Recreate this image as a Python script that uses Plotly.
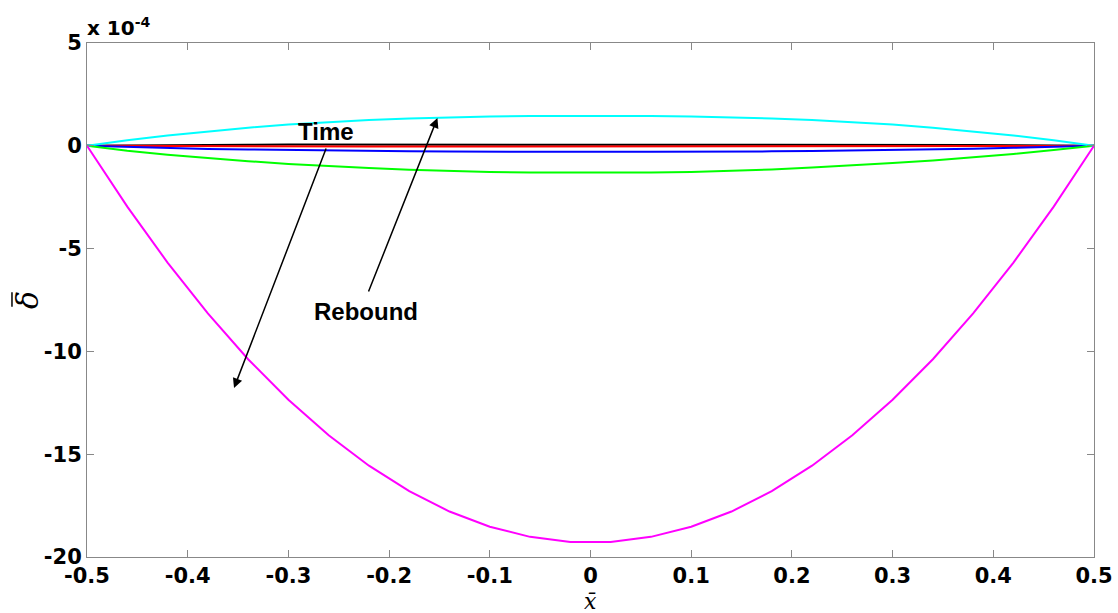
import plotly.graph_objects as go

# x positions (normalised beam coordinate)
x_vals = [-0.5, -0.46, -0.42, -0.38, -0.34, -0.30, -0.26, -0.22, -0.18, -0.14, -0.10, -0.06, -0.02,
          0.02, 0.06, 0.10, 0.14, 0.18, 0.22, 0.26, 0.30, 0.34, 0.38, 0.42, 0.46, 0.5]

# deflection values in units of 1e-4
black_vals = [0.0, 0.02, 0.03, 0.04, 0.05, 0.06, 0.06, 0.07, 0.07, 0.07, 0.07, 0.07, 0.07,
              0.07, 0.07, 0.07, 0.07, 0.07, 0.07, 0.06, 0.06, 0.05, 0.04, 0.03, 0.02, 0.0]
red_vals = [0.0, -0.01, -0.02, -0.03, -0.03, -0.04, -0.04, -0.04, -0.04, -0.04, -0.04, -0.04, -0.04,
            -0.04, -0.04, -0.04, -0.04, -0.04, -0.04, -0.04, -0.04, -0.03, -0.03, -0.02, -0.01, 0.0]
blue_vals = [0.0, -0.06, -0.11, -0.15, -0.18, -0.21, -0.23, -0.25, -0.27, -0.28, -0.29, -0.29, -0.29,
             -0.29, -0.29, -0.29, -0.28, -0.27, -0.25, -0.23, -0.20, -0.17, -0.14, -0.10, -0.05, 0.0]
green_vals = [0.0, -0.24, -0.43, -0.60, -0.75, -0.88, -0.99, -1.08, -1.16, -1.22, -1.27, -1.30, -1.31,
              -1.31, -1.30, -1.27, -1.22, -1.15, -1.06, -0.96, -0.84, -0.71, -0.56, -0.40, -0.21, 0.0]
cyan_vals = [0.0, 0.27, 0.50, 0.70, 0.88, 1.03, 1.15, 1.25, 1.33, 1.39, 1.43, 1.45, 1.46,
             1.46, 1.45, 1.43, 1.39, 1.33, 1.25, 1.15, 1.03, 0.88, 0.70, 0.50, 0.27, 0.0]
magenta_vals = [0.0, -2.96, -5.68, -8.15, -10.38, -12.35, -14.08, -15.56, -16.80, -17.79, -18.53, -19.02, -19.27,
                -19.27, -19.02, -18.53, -17.79, -16.80, -15.56, -14.08, -12.35, -10.38, -8.15, -5.68, -2.96, 0.0]

x_ticks = [-0.5, -0.4, -0.3, -0.2, -0.1, 0, 0.1, 0.2, 0.3, 0.4, 0.5]
x_ticktext = ["-0.5", "-0.4", "-0.3", "-0.2", "-0.1", "0", "0.1", "0.2", "0.3", "0.4", "0.5"]
y_ticks = [5, 0, -5, -10, -15, -20]
y_ticktext = ["5", "0", "-5", "-10", "-15", "-20"]

series = [
    ("black", black_vals, "#000000"),
    ("red", red_vals, "#FF0000"),
    ("blue", blue_vals, "#0000FF"),
    ("green", green_vals, "#00FF00"),
    ("cyan", cyan_vals, "#00FFFF"),
    ("magenta", magenta_vals, "#FF00FF"),
]

fig = go.Figure()
for name, vals, col in series:
    fig.add_trace(go.Scatter(x=x_vals, y=vals, mode="lines", name=name,
                             line=dict(color=col, width=2), showlegend=False))

tick_font = dict(family="DejaVu Sans, sans-serif", size=21, color="black", weight="bold")

fig.update_layout(
    width=1118, height=613,
    margin=dict(l=87, r=24, t=43, b=56),
    paper_bgcolor="white", plot_bgcolor="white",
    xaxis=dict(range=[-0.5, 0.5], tickvals=x_ticks, ticktext=x_ticktext,
               ticks="inside", ticklen=7, tickcolor="#888888", tickwidth=1,
               showline=True, linecolor="#888888", linewidth=1, mirror="ticks",
               showgrid=False, zeroline=False, tickfont=tick_font, automargin=False),
    yaxis=dict(range=[-20, 5], tickvals=y_ticks, ticktext=y_ticktext,
               ticks="inside", ticklen=7, tickcolor="#888888", tickwidth=1,
               showline=True, linecolor="#888888", linewidth=1, mirror="ticks",
               showgrid=False, zeroline=False, tickfont=tick_font, automargin=False),
)

ann_font = dict(family="Liberation Sans, Arial, sans-serif", size=24, color="black")
fig.add_annotation(x=-0.263, y=0.72, text="<b>Time</b>", showarrow=False, font=ann_font)
fig.add_annotation(x=-0.223, y=-8.08, text="<b>Rebound</b>", showarrow=False, font=ann_font)
fig.add_annotation(x=-0.354, y=-11.78, ax=-0.262, ay=-0.06, xref="x", yref="y", axref="x", ayref="y",
                   text="", showarrow=True, arrowhead=2, arrowsize=1.3, arrowwidth=1.5, arrowcolor="black")
fig.add_annotation(x=-0.152, y=1.35, ax=-0.221, ay=-7.16, xref="x", yref="y", axref="x", ayref="y",
                   text="", showarrow=True, arrowhead=2, arrowsize=1.3, arrowwidth=1.5, arrowcolor="black")

fig.add_annotation(xref="paper", yref="paper", x=0, y=1, xanchor="left", yanchor="bottom",
                   xshift=-2, yshift=1,
                   text="<b>x 10<sup>-4</sup></b>", showarrow=False,
                   font=dict(family="DejaVu Sans, sans-serif", size=20, color="black"))
fig.add_annotation(xref="paper", yref="paper", x=0.5, y=0, xanchor="center", yanchor="top",
                   yshift=-30, text="<i>x\u0304</i>", showarrow=False,
                   font=dict(family="DejaVu Serif, serif", size=22, color="black"))
fig.add_annotation(xref="paper", yref="paper", x=0, y=0.5, xanchor="center", yanchor="middle",
                   xshift=-60, textangle=-90, text="<i>\u03b4</i>", showarrow=False,
                   font=dict(family="DejaVu Serif, serif", size=30, color="black"))
# overbar of the rotated delta symbol
fig.add_shape(type="line", xref="paper", yref="paper",
              x0=-0.0745, x1=-0.0745, y0=0.487, y1=0.515,
              line=dict(color="black", width=1.5))

fig.write_html("out.html")
